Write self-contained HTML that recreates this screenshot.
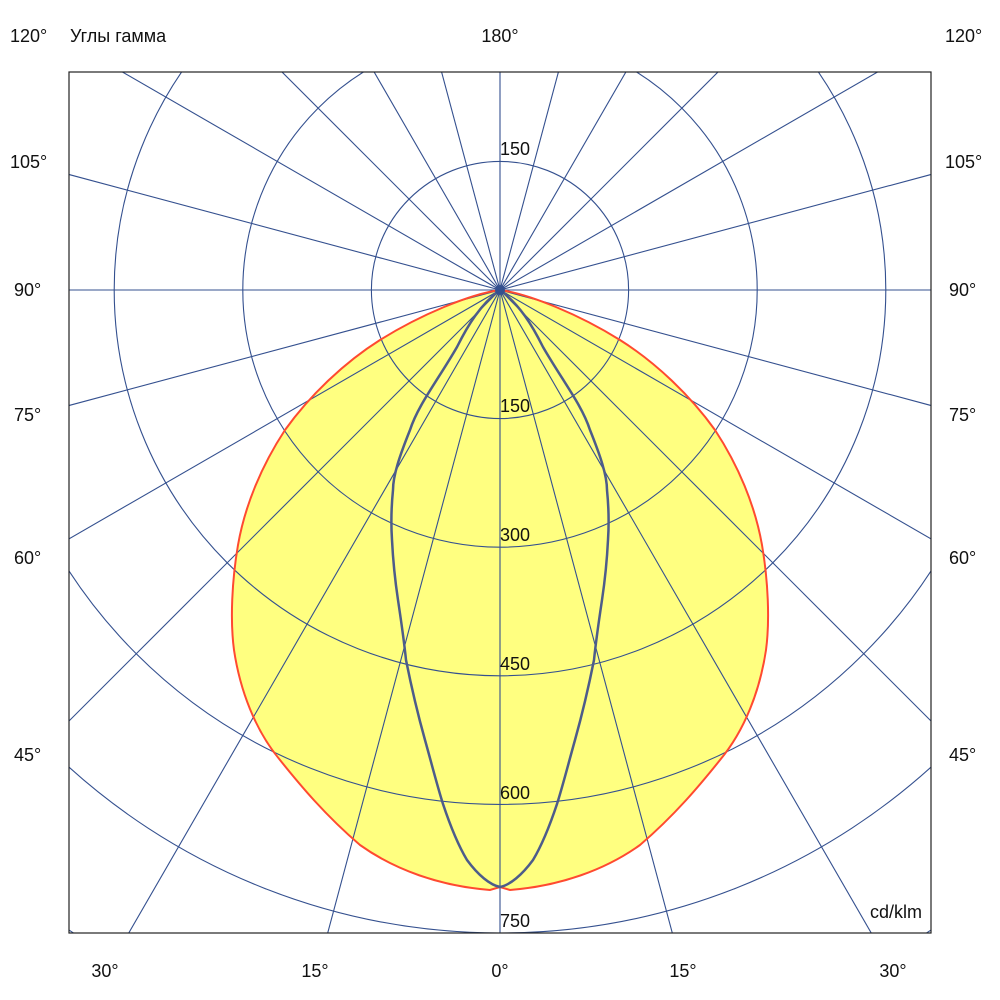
<!DOCTYPE html>
<html><head><meta charset="utf-8"><style>
html,body{margin:0;background:#fff;width:1000px;height:1000px;overflow:hidden;}
svg{display:block;font-family:"Liberation Sans","Noto Sans CJK SC",sans-serif;}
</style></head><body>
<svg width="1000" height="1000" viewBox="0 0 1000 1000">
<defs><clipPath id="c"><rect x="69" y="72" width="862" height="861"/></clipPath></defs>
<g clip-path="url(#c)">
<path d="M500,290 C470,294 420,315 380,340 C345,362 310,395 285,430 C262,465 245,505 238,545 C232,580 230,620 234,650 C240,690 255,730 280,760 C300,785 325,815 360,845 C395,870 440,886 490,890 L500,887 L510,890 C560,886 605,870 640,845 C675,815 700,785 720,760 C745,730 760,690 766,650 C770,620 768,580 762,545 C755,505 738,465 715,430 C690,395 655,362 620,340 C580,315 530,294 500,290 Z" fill="#ffff80" stroke="none"/>
<g fill="none" stroke="#34508f" stroke-width="1.1">
<circle cx="500" cy="290" r="128.6"/><circle cx="500" cy="290" r="257.2"/><circle cx="500" cy="290" r="385.8"/><circle cx="500" cy="290" r="514.4"/><circle cx="500" cy="290" r="643"/><circle cx="500" cy="290" r="771.6"/>
<line x1="500" y1="-910" x2="500" y2="1490"/>
<line x1="189.4" y1="-869.1" x2="810.6" y2="1449.1"/>
<line x1="-100" y1="-749.2" x2="1100" y2="1329.2"/>
<line x1="-348.5" y1="-558.5" x2="1348.5" y2="1138.5"/>
<line x1="-539.2" y1="-310" x2="1539.2" y2="890"/>
<line x1="-659.1" y1="-20.6" x2="1659.1" y2="600.6"/>
<line x1="0" y1="290" x2="1000" y2="290"/>
<line x1="-659.1" y1="600.6" x2="1659.1" y2="-20.6"/>
<line x1="-539.2" y1="890" x2="1539.2" y2="-310"/>
<line x1="-348.5" y1="1138.5" x2="1348.5" y2="-558.5"/>
<line x1="-100" y1="1329.2" x2="1100" y2="-749.2"/>
<line x1="189.4" y1="1449.1" x2="810.6" y2="-869.1"/>
</g>
<path d="M500,290 C470,294 420,315 380,340 C345,362 310,395 285,430 C262,465 245,505 238,545 C232,580 230,620 234,650 C240,690 255,730 280,760 C300,785 325,815 360,845 C395,870 440,886 490,890 L500,887 L510,890 C560,886 605,870 640,845 C675,815 700,785 720,760 C745,730 760,690 766,650 C770,620 768,580 762,545 C755,505 738,465 715,430 C690,395 655,362 620,340 C580,315 530,294 500,290 Z" fill="none" stroke="#ff4a30" stroke-width="2"/>
<path d="M500,290 C480,305 468,325 457,347 C438,380 418,405 410,430 C400,455 393,475 393,490 C391,510 391,525 392,540 C393,560 395,580 398,600 C401,620 404,640 406,660 C412,690 418,715 425,740 C432,765 437,785 443,804 C450,825 458,845 467,860 C478,875 490,885 500,887 C510,885 522,875 533,860 C542,845 550,825 557,804 C563,785 568,765 575,740 C582,715 588,690 594,660 C596,640 599,620 602,600 C605,580 607,560 608,540 C609,525 609,510 607,490 C607,475 600,455 590,430 C582,405 562,380 543,347 C532,325 520,305 500,290 Z" fill="none" stroke="#4d5c8a" stroke-width="2.5"/>
<circle cx="500" cy="290" r="5" fill="#34508f"/>
</g>
<rect x="69" y="72" width="862" height="861" fill="none" stroke="#222" stroke-width="1.2"/>
<g font-size="18" fill="#111">
<text x="10" y="42">120°</text><text x="70" y="42">Углы гамма</text><text x="500" y="42" text-anchor="middle">180°</text><text x="945" y="42">120°</text>
<text x="10" y="168">105°</text><text x="945" y="168">105°</text>
<text x="14" y="296">90°</text><text x="949" y="296">90°</text>
<text x="14" y="421">75°</text><text x="949" y="421">75°</text>
<text x="14" y="564">60°</text><text x="949" y="564">60°</text>
<text x="14" y="761">45°</text><text x="949" y="761">45°</text>
<text x="105" y="977" text-anchor="middle">30°</text><text x="315" y="977" text-anchor="middle">15°</text><text x="500" y="977" text-anchor="middle">0°</text><text x="683" y="977" text-anchor="middle">15°</text><text x="893" y="977" text-anchor="middle">30°</text>
<text x="922" y="918" text-anchor="end">cd/klm</text>
<text x="500" y="155">150</text><text x="500" y="412">150</text><text x="500" y="541">300</text><text x="500" y="670">450</text><text x="500" y="799">600</text><text x="500" y="927">750</text>
</g>
</svg>
</body></html>
